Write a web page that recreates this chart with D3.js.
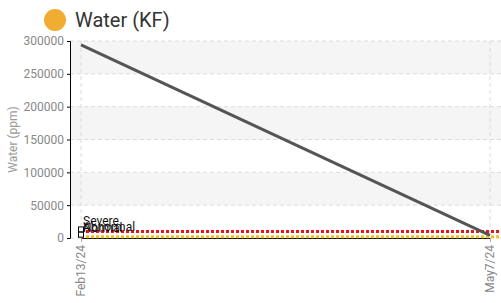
<!DOCTYPE html>
<html>
<head>
<meta charset="utf-8">
<script src="https://cdn.jsdelivr.net/npm/d3@7"></script>
<style>
  body { margin: 0; background: #fff; font-family: Roboto, "Noto Sans", sans-serif; }
</style>
</head>
<body>
<div class="chart"></div>
<script>
// data
const dates = ['2024-02-13', '2024-05-07'];
const dateLabels = ['Feb13/24', 'May7/24'];
const waterValues = [294000, 4000];
const limitNames = ['Severe', 'Abnormal', 'Normal'];
const limitValues = [10000, 2000, 0];
const limitColors = ['#e8141b', '#f2c21b', null];
const yTicks = [0, 50000, 100000, 150000, 200000, 250000, 300000];

const outerWidth = 501, outerHeight = 303;
const margin = {top: 41, right: 0, bottom: 65, left: 70};
const width = outerWidth - margin.left - margin.right;
const height = outerHeight - margin.top - margin.bottom;

const parse = d3.timeParse('%Y-%m-%d');

const svg = d3.select('.chart').append('svg')
    .attr('width', outerWidth)
    .attr('height', outerHeight);

// title
svg.append('circle')
    .attr('cx', 55).attr('cy', 20).attr('r', 11)
    .attr('fill', '#f0ad32');
svg.append('text')
    .attr('x', 75).attr('y', 27)
    .attr('font-size', 20)
    .attr('fill', '#333')
    .text('Water (KF)');

const g = svg.append('g')
    .attr('transform', 'translate(' + margin.left + ',' + margin.top + ')');

const x = d3.scaleTime()
    .domain(d3.extent(dates, parse))
    .range([11, 420]);

const y = d3.scaleLinear()
    .domain([0, 300000])
    .range([height, 0]);

// alternating bands
const bands = d3.pairs(yTicks).filter((d, i) => i % 2 === 1);
g.selectAll('.band').data(bands).enter().append('rect')
    .attr('x', 0)
    .attr('width', width)
    .attr('y', d => y(d[1]))
    .attr('height', d => y(d[0]) - y(d[1]))
    .attr('fill', '#f5f5f5');

// grid
g.selectAll('.hgrid').data(yTicks).enter().append('line')
    .attr('x1', 0).attr('x2', width)
    .attr('y1', d => y(d)).attr('y2', d => y(d))
    .attr('stroke', '#dcdcdc')
    .attr('stroke-dasharray', '4,3');
g.selectAll('.vgrid').data(dates).enter().append('line')
    .attr('x1', d => x(parse(d))).attr('x2', d => x(parse(d)))
    .attr('y1', 0).attr('y2', height)
    .attr('stroke', '#dcdcdc')
    .attr('stroke-dasharray', '4,3');

// y axis
const yAxis = g.append('g')
    .call(d3.axisLeft(y).tickValues(yTicks).tickSize(3).tickFormat(d3.format('d')));
yAxis.select('.domain').attr('stroke', '#000');
yAxis.selectAll('.tick line').attr('stroke', '#000');
yAxis.selectAll('text')
    .attr('fill', '#888')
    .attr('font-size', 12)
    .attr('font-family', 'Roboto, sans-serif');

svg.append('text')
    .attr('transform', 'translate(17,' + (margin.top + height / 2) + ') rotate(-90)')
    .attr('text-anchor', 'middle')
    .attr('fill', '#999')
    .attr('font-size', 12)
    .text('Water (ppm)');

// x axis
const xAxis = g.append('g')
    .attr('transform', 'translate(0,' + height + ')')
    .call(d3.axisBottom(x)
        .tickValues(dates.map(parse))
        .tickSize(4)
        .tickSizeOuter(0)
        .tickFormat((d, i) => dateLabels[i]));
xAxis.select('.domain').attr('stroke', '#000');
xAxis.selectAll('.tick line').attr('stroke', '#aaa');
xAxis.selectAll('.tick text')
    .attr('fill', '#888')
    .attr('font-size', 12)
    .attr('font-family', 'Roboto, sans-serif')
    .attr('text-anchor', 'end')
    .attr('transform', 'rotate(-90)')
    .attr('x', -7).attr('y', 0)
    .attr('dy', '0.3em');

// limit lines
const xr = x.range();
limitValues.forEach((v, i) => {
    if (limitColors[i]) {
        g.append('line')
            .attr('x1', xr[0]).attr('x2', width)
            .attr('y1', y(v)).attr('y2', y(v))
            .attr('stroke', limitColors[i])
            .attr('stroke-width', 3)
            .attr('stroke-dasharray', '3,2');
        g.append('rect')
            .attr('x', xr[0] - 2.5).attr('y', y(v) - 4.5)
            .attr('width', 5).attr('height', 5)
            .attr('fill', '#fff').attr('stroke', '#000');
    }
    g.append('text')
        .attr('x', xr[0] + 2)
        .attr('y', y(v) - 6)
        .attr('font-size', 12)
        .attr('fill', '#111')
        .text(limitNames[i]);
});

// water line
const line = d3.line()
    .x((d, i) => x(parse(dates[i])))
    .y(d => y(d));
g.append('path')
    .datum(waterValues)
    .attr('fill', 'none')
    .attr('stroke', '#555')
    .attr('stroke-width', 3)
    .attr('d', line);
</script>
</body>
</html>
